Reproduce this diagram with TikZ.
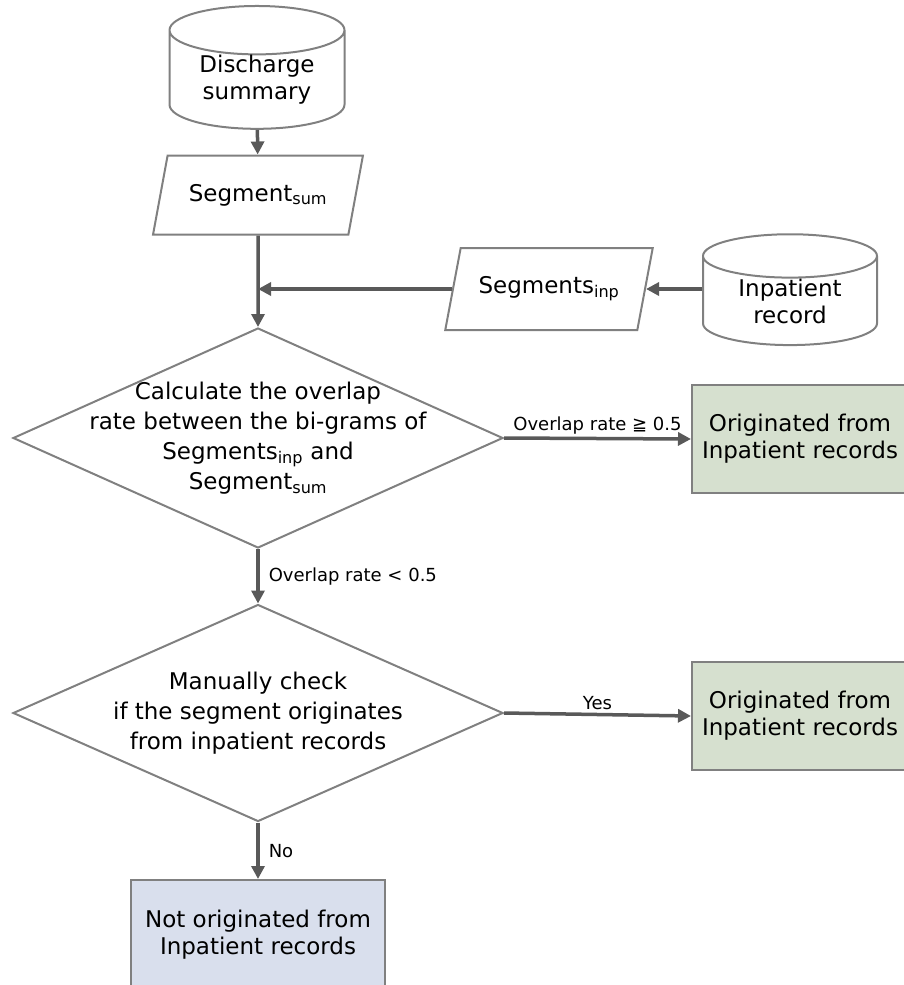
\documentclass[tikz,border=0pt]{standalone}
\usepackage{fontspec}
\setmainfont{DejaVu Sans}
\usetikzlibrary{shapes.geometric,arrows.meta,positioning}

\definecolor{edgegray}{RGB}{128,128,128}
\definecolor{flowgray}{RGB}{89,89,89}
\definecolor{yesgreen}{RGB}{214,224,207}
\definecolor{noblue}{RGB}{217,223,237}

\tikzset{
  base/.style={draw=edgegray,line width=2pt,align=center,
    font=\fontsize{23}{27}\selectfont},
  database/.style={base,cylinder,shape border rotate=90,aspect=0.42,inner sep=0pt},
  datain/.style={base,trapezium,trapezium left angle=63,trapezium right angle=117,
    trapezium stretches=true,inner sep=0pt},
  decision/.style={base,diamond,inner sep=0pt},
  decisiontext/.style={align=center,font=\fontsize{23}{30}\selectfont},
  result/.style={base,rectangle,inner sep=0pt},
  flow/.style={draw=flowgray,line width=3.5pt,-{Triangle[length=13pt,width=13pt]}},
  cond/.style={font=\fontsize{18}{21}\selectfont,inner sep=3pt},
}

\begin{document}
\begin{tikzpicture}[x=1pt,y=-1pt]
  \useasboundingbox (0,0) rectangle (904,985);

  % sources
  \node[database,minimum width=175,minimum height=98] (discharge) at (257,80)
    {Discharge\\summary};
  \node[database,minimum width=174,minimum height=105] (inpatient) at (790,301)
    {Inpatient\\record};

  % segments
  \node[datain,minimum width=210,minimum height=79] (segsum) at (258,195)
    {Segment\textsubscript{sum}};
  \node[datain,minimum width=208,minimum height=82] (seginp) at (549,289)
    {Segments\textsubscript{inp}};
  \coordinate (join) at (segsum.south |- seginp.west);

  % decisions
  \node[decision,minimum width=490,minimum height=220] (overlap) at (258,438) {};
  \node[decisiontext] (overlaptext) at (overlap)
    {Calculate the overlap\\rate between the bi-grams of\\
     Segments\textsubscript{inp} and\\Segment\textsubscript{sum}};
  \node[decision,minimum width=490,minimum height=217] (manual) at (258,713) {};
  \node[decisiontext] (manualtext) at (manual)
    {Manually check\\if the segment originates\\from inpatient records};

  % outcomes
  \node[result,fill=yesgreen,minimum width=216,minimum height=108] (origA) at (800,439)
    {Originated from\\Inpatient records};
  \node[result,fill=yesgreen,minimum width=216,minimum height=108] (origB) at (800,716)
    {Originated from\\Inpatient records};
  \node[result,fill=noblue,minimum width=254,minimum height=110] (notorig) at (258,935)
    {Not originated from\\Inpatient records};

  % connectors
  \draw[flow] (discharge) -- (segsum);
  \draw[flow] (segsum.south) -- (overlap.north);
  \draw[flow] (seginp.west) -- (join);
  \draw[flow] (inpatient.west |- seginp.east) -- (seginp.east);
  \draw[flow] (overlap.east) -- node[cond,above] {Overlap rate ≧ 0.5} (origA.west);
  \draw[flow] (overlap.south) -- node[cond,right=6pt] {Overlap rate < 0.5} (manual.north);
  \draw[flow] (manual.east) -- node[cond,above] {Yes} (origB.west);
  \draw[flow] (manual.south) -- node[cond,right=6pt] {No} (notorig.north);
\end{tikzpicture}
\end{document}
